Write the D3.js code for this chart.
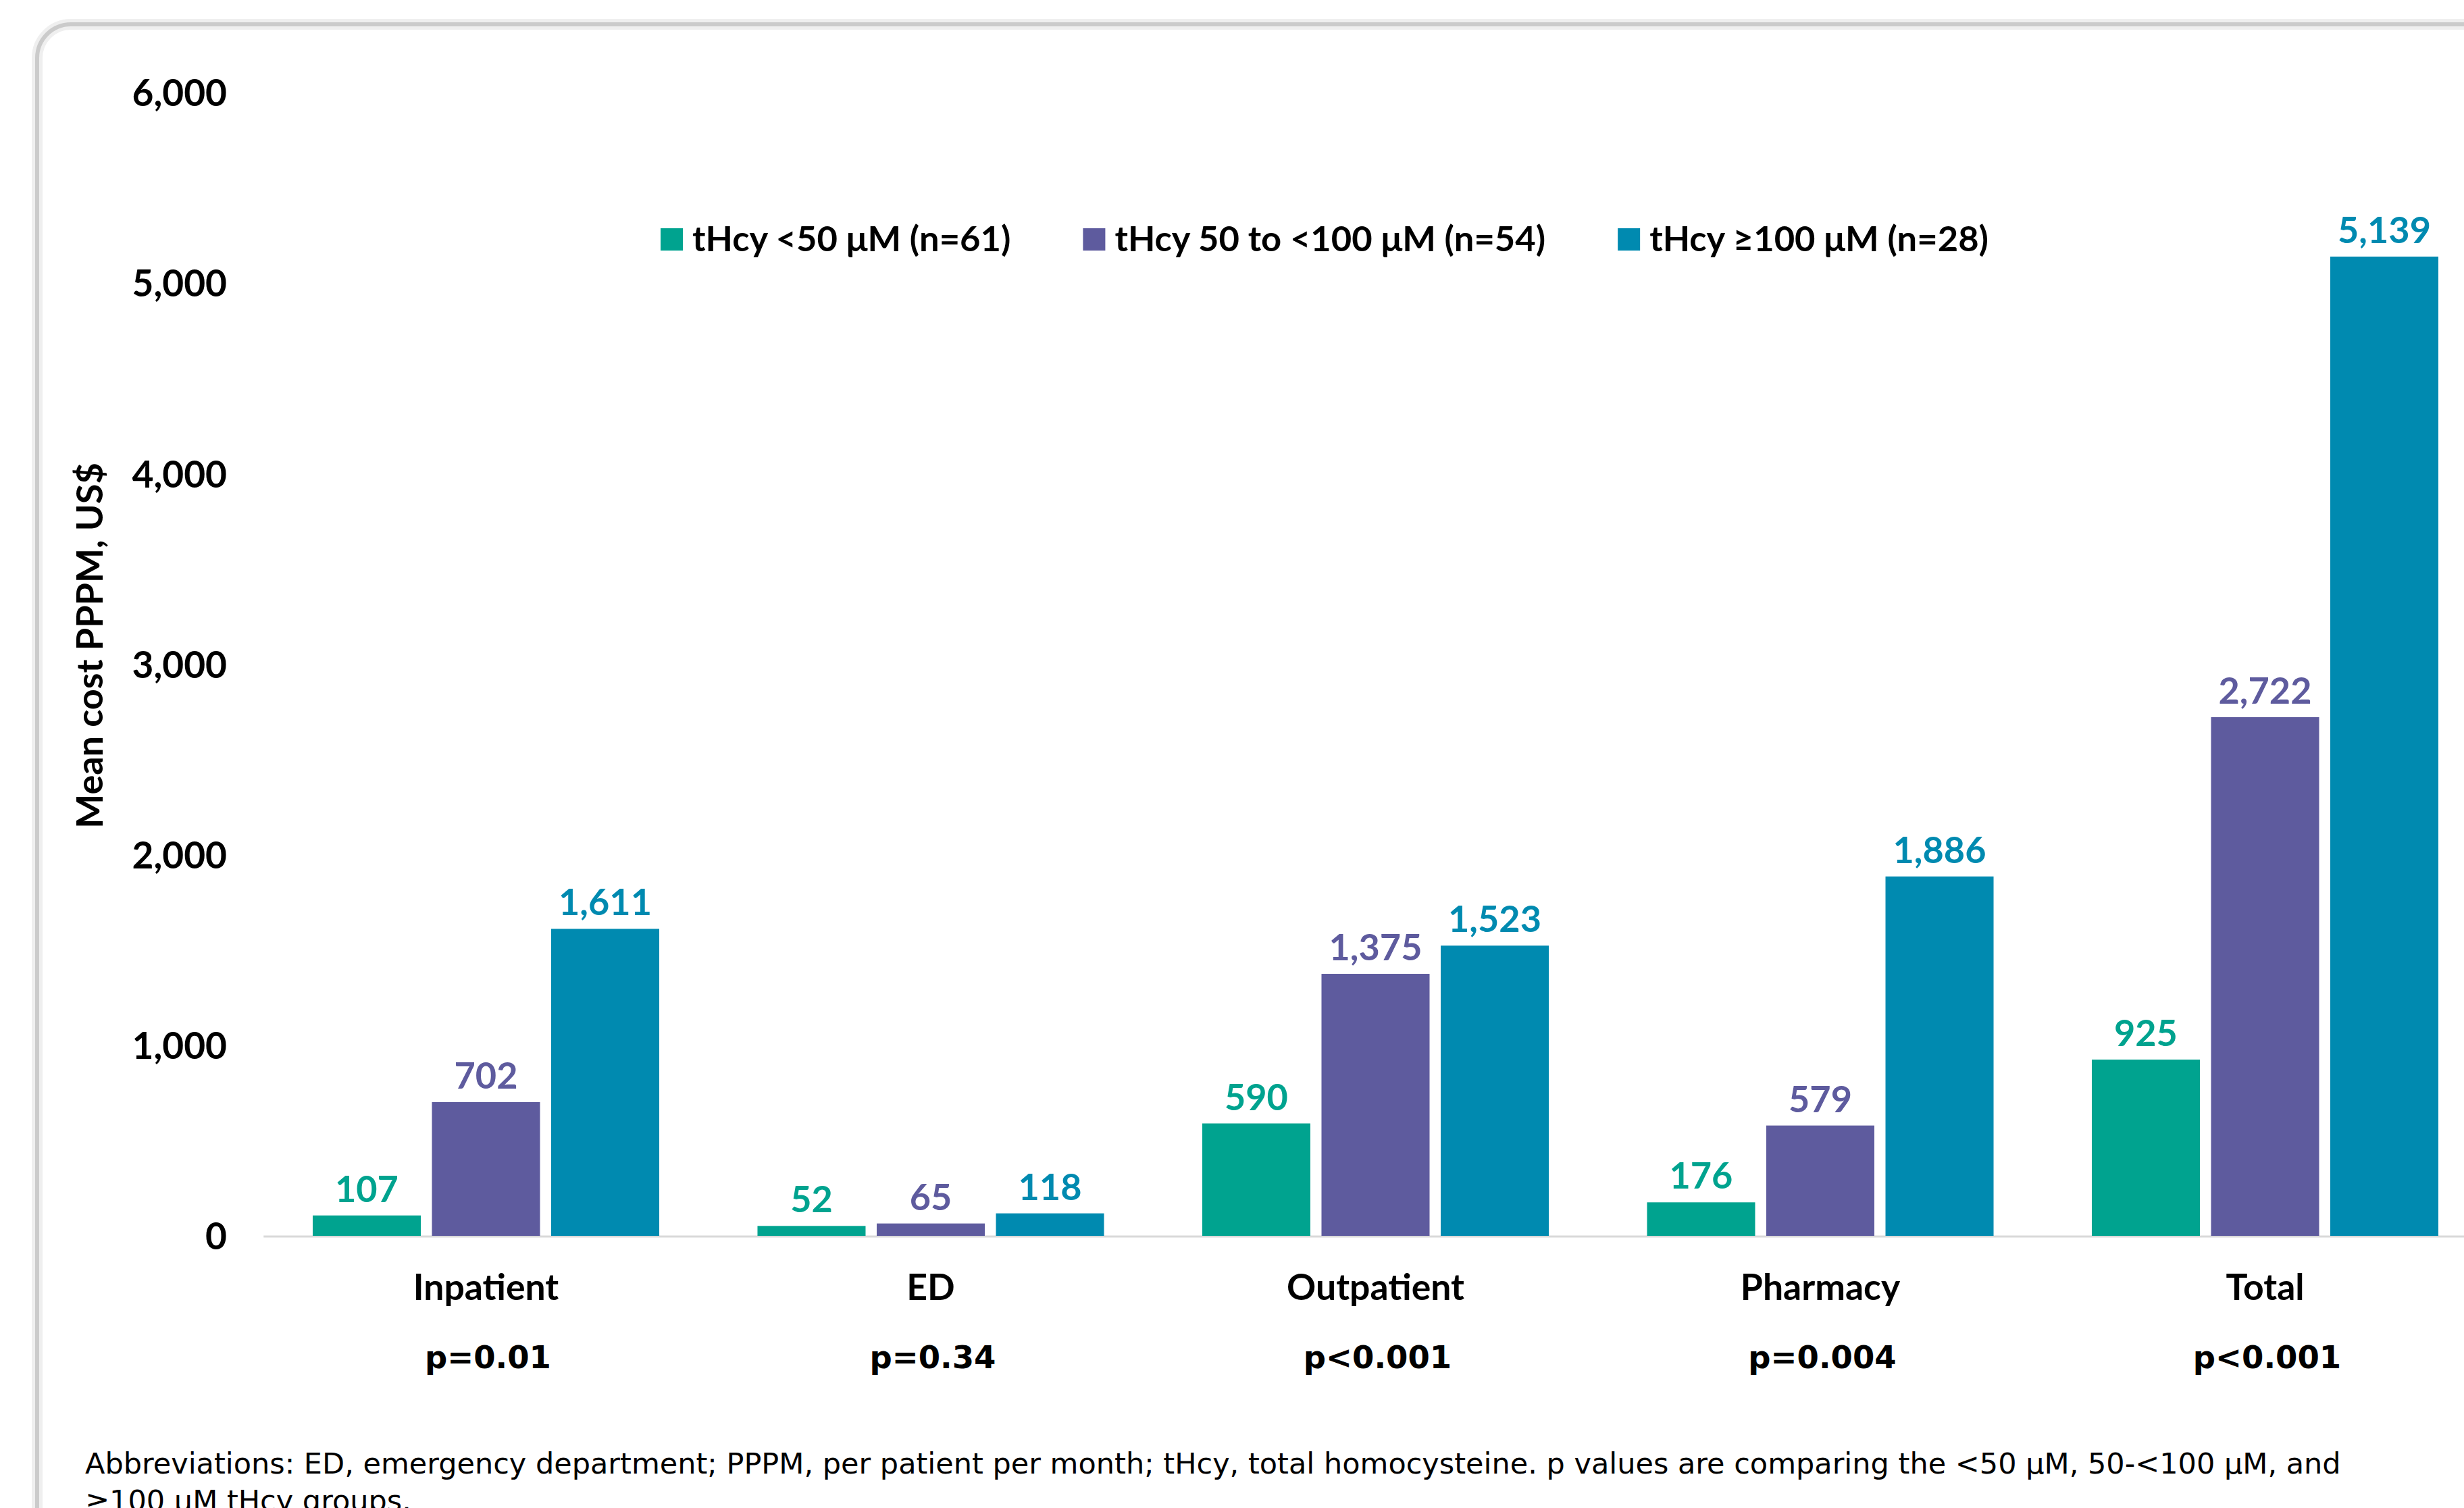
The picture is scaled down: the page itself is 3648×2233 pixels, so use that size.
<!DOCTYPE html>
<html>
<head>
<meta charset="utf-8">
<script src="https://cdn.jsdelivr.net/npm/d3@7"></script>
<style>
  html, body { margin: 0; padding: 0; background: #ffffff; }
  svg { display: block; }
</style>
</head>
<body>
<svg id="chart" width="3648" height="2233"></svg>
<script>
// ---- data ----
const categories = ["Inpatient", "ED", "Outpatient", "Pharmacy", "Total"];
const pValues = ["p=0.01", "p=0.34", "p<0.001", "p=0.004", "p<0.001"];
const seriesNames = ["tHcy <50 μM (n=61)", "tHcy 50 to <100 μM (n=54)", "tHcy ≥100 μM (n=28)"];
const lowValues = [107, 52, 590, 176, 925];
const midValues = [702, 65, 1375, 579, 2722];
const highValues = [1611, 118, 1523, 1886, 5139];
const yTicks = [0, 1000, 2000, 3000, 4000, 5000, 6000];
const yTitle = "Mean cost PPPM, US$";
const footnoteLines = [
  "Abbreviations: ED, emergency department; PPPM, per patient per month; tHcy, total homocysteine. p values are comparing the <50 μM, 50-<100 μM, and",
  "≥100 μM tHcy groups."
];

const seriesColors = ["#00A38F", "#5E5B9E", "#008AB0"];
const seriesValues = [lowValues, midValues, highValues];

const svg = d3.select("#chart");
const W = 3648, H = 2233;

svg.append("rect").attr("width", W).attr("height", H).attr("fill", "#ffffff");

// ---- panel border (rounded, shadowed) ----
const border = svg.append("g");
border.append("rect")
  .attr("x", 55).attr("y", 36).attr("width", W + 200).attr("height", H + 200)
  .attr("rx", 50).attr("ry", 50)
  .attr("fill", "none").attr("stroke", "#efefef").attr("stroke-width", 16);
border.append("rect")
  .attr("x", 55).attr("y", 36).attr("width", W + 200).attr("height", H + 200)
  .attr("rx", 50).attr("ry", 50)
  .attr("fill", "none").attr("stroke", "#cbcbcb").attr("stroke-width", 6);

// ---- scales ----
const x0 = d3.scaleBand().domain(categories).range([390.25, 3682.75]).paddingInner(0).paddingOuter(0);
const x1 = d3.scaleBand().domain(d3.range(seriesNames.length)).range([0, x0.bandwidth()])
  .paddingInner(0.0935).paddingOuter(0.412);
const y = d3.scaleLinear().domain([0, 6000]).range([1830, 137]);

const calibri = "Lato, 'Open Sans', sans-serif";
const verdana = "'DejaVu Sans', Verdana, sans-serif";

// ---- y axis ----
const yAxis = svg.append("g").attr("transform", "translate(336,0)")
  .call(d3.axisLeft(y).tickValues(yTicks).tickFormat(d3.format(",")).tickSize(0).tickPadding(0));
yAxis.select(".domain").remove();
yAxis.selectAll("text")
  .attr("font-family", calibri).attr("font-weight", 700).attr("font-size", 55)
  .attr("fill", "#000").attr("dy", "0.36em").attr("x", 0);

// y title
svg.append("text")
  .attr("transform", "translate(152,956) rotate(-90)")
  .attr("text-anchor", "middle")
  .attr("font-family", calibri).attr("font-weight", 700).attr("font-size", 54)
  .attr("fill", "#000")
  .text(yTitle);

// ---- baseline axis line ----
svg.append("line")
  .attr("x1", x0.range()[0]).attr("x2", W)
  .attr("y1", y(0) + 1).attr("y2", y(0) + 1)
  .attr("stroke", "#d9d9d9").attr("stroke-width", 3);

// ---- bars ----
const groups = svg.append("g").selectAll("g").data(categories).join("g")
  .attr("transform", d => `translate(${x0(d)},0)`);

groups.each(function(cat, ci) {
  const g = d3.select(this);
  seriesValues.forEach((vals, si) => {
    const v = vals[ci];
    g.append("rect")
      .attr("x", x1(si)).attr("width", x1.bandwidth())
      .attr("y", y(v)).attr("height", y(0) - y(v))
      .attr("fill", seriesColors[si]);
    g.append("text")
      .attr("x", x1(si) + x1.bandwidth() / 2)
      .attr("y", y(v) - 20)
      .attr("text-anchor", "middle")
      .attr("font-family", calibri).attr("font-weight", 700).attr("font-size", 54)
      .attr("fill", seriesColors[si])
      .text(d3.format(",")(v));
  });
});

// ---- category labels & p values ----
svg.append("g").selectAll("text").data(categories).join("text")
  .attr("x", d => x0(d) + x0.bandwidth() / 2)
  .attr("y", 1925)
  .attr("text-anchor", "middle")
  .attr("font-family", calibri).attr("font-weight", 700).attr("font-size", 53.5)
  .attr("fill", "#000")
  .text(d => d);

svg.append("g").selectAll("text").data(pValues).join("text")
  .attr("x", (d, i) => x0(categories[i]) + x0.bandwidth() / 2 + 3)
  .attr("y", 2026)
  .attr("text-anchor", "middle")
  .attr("font-family", verdana).attr("font-weight", 700).attr("font-size", 46.5)
  .attr("fill", "#000")
  .text(d => d);

// ---- legend ----
const legend = svg.append("g");
const legendItems = legend.selectAll("g").data(seriesNames).join("g");
legendItems.append("rect")
  .attr("x", 0).attr("y", 338).attr("width", 33).attr("height", 33)
  .attr("fill", (d, i) => seriesColors[i]);
legendItems.append("text")
  .attr("x", 47).attr("y", 372)
  .attr("font-family", calibri).attr("font-weight", 700).attr("font-size", 52.5)
  .attr("fill", "#000")
  .text(d => d);
let cursor = 0;
const starts = [];
legendItems.each(function() {
  starts.push(cursor);
  const w = d3.select(this).select("text").node().getComputedTextLength();
  cursor += 47 + w + 107;
});
const totalW = cursor - 107;
const legendLeft = 1961 - totalW / 2;
legendItems.attr("transform", (d, i) => `translate(${legendLeft + starts[i]},0)`);

// ---- footnote ----
svg.append("g").selectAll("text").data(footnoteLines).join("text")
  .attr("x", 126)
  .attr("y", (d, i) => 2182 + i * 55)
  .attr("font-family", verdana).attr("font-size", 43)
  .attr("fill", "#000")
  .text(d => d);
</script>
</body>
</html>
